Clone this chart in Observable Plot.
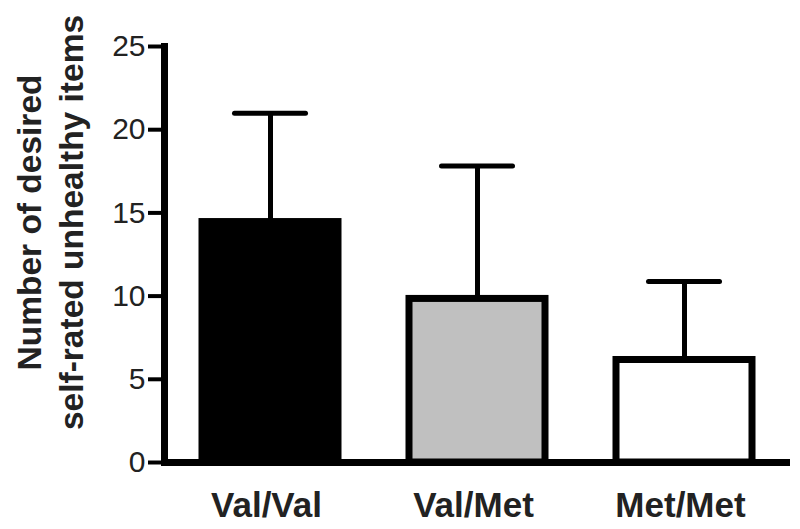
<!DOCTYPE html>
<html>
<head>
<meta charset="utf-8">
<script src="https://cdn.jsdelivr.net/npm/d3@7"></script>
<script src="https://cdn.jsdelivr.net/npm/@observablehq/plot@0.6"></script>
<style>
  html, body { margin: 0; padding: 0; background: #fff; }
  svg { display: block; }
</style>
</head>
<body>
<div id="chart"></div>
<script>
const genotypes = ["Val/Val", "Val/Met", "Met/Met"];
const means = [14.45, 9.83, 6.16];
const upperErrors = [20.99, 17.82, 10.87];
const fills = ["#000000", "#c0c0c0", "#ffffff"];
const yTicks = [0, 5, 10, 15, 20, 25];
const yLabel = "Number of desired\nself-rated unhealthy items";

const data = genotypes.map((g, i) => ({genotype: g, mean: means[i], upper: upperErrors[i], fill: fills[i]}));
const font = "Arial, 'Liberation Sans', Helvetica, sans-serif";

const chart = Plot.plot({
  width: 800,
  height: 529,
  marginLeft: 164,
  marginRight: 10,
  marginTop: 46,
  marginBottom: 67,
  style: {fontFamily: font, background: "#fff", color: "#222"},
  x: {type: "band", domain: genotypes, paddingInner: 0.341, paddingOuter: 0.1755, label: null},
  y: {domain: [0, 25], label: null},
  marks: [
    Plot.ruleX(data, {x: "genotype", y1: "mean", y2: "upper", stroke: "#000", strokeWidth: 5}),
    Plot.tickY(data, {x: "genotype", y: "upper", stroke: "#000", strokeWidth: 5, strokeLinecap: "round", insetLeft: 32.5, insetRight: 32.5}),
    Plot.barY(data, {x: "genotype", y: "mean", fill: "fill", stroke: "#000", strokeWidth: 7}),
    Plot.frame({anchor: "left", stroke: "#000", strokeWidth: 7, strokeLinecap: "square"}),
    Plot.ruleY([0], {stroke: "#000", strokeWidth: 7}),
    Plot.axisY({ticks: yTicks, tickSize: 16, tickPadding: 3, strokeWidth: 4, stroke: "#000", fontSize: 30, fill: "#222", label: null}),
    Plot.axisX({tickSize: 0, tickPadding: 30, fontSize: 35, fontWeight: "bold", fill: "#222", label: null, dx: -4}),
    Plot.text([yLabel], {frameAnchor: "left", text: d => d, rotate: -90, dx: -116, dy: -32, fontSize: 33.5, fontWeight: "bold", fill: "#222", lineHeight: 1.27, lineAnchor: "middle", textAnchor: "middle"})
  ]
});
document.getElementById("chart").append(chart);
</script>
</body>
</html>
